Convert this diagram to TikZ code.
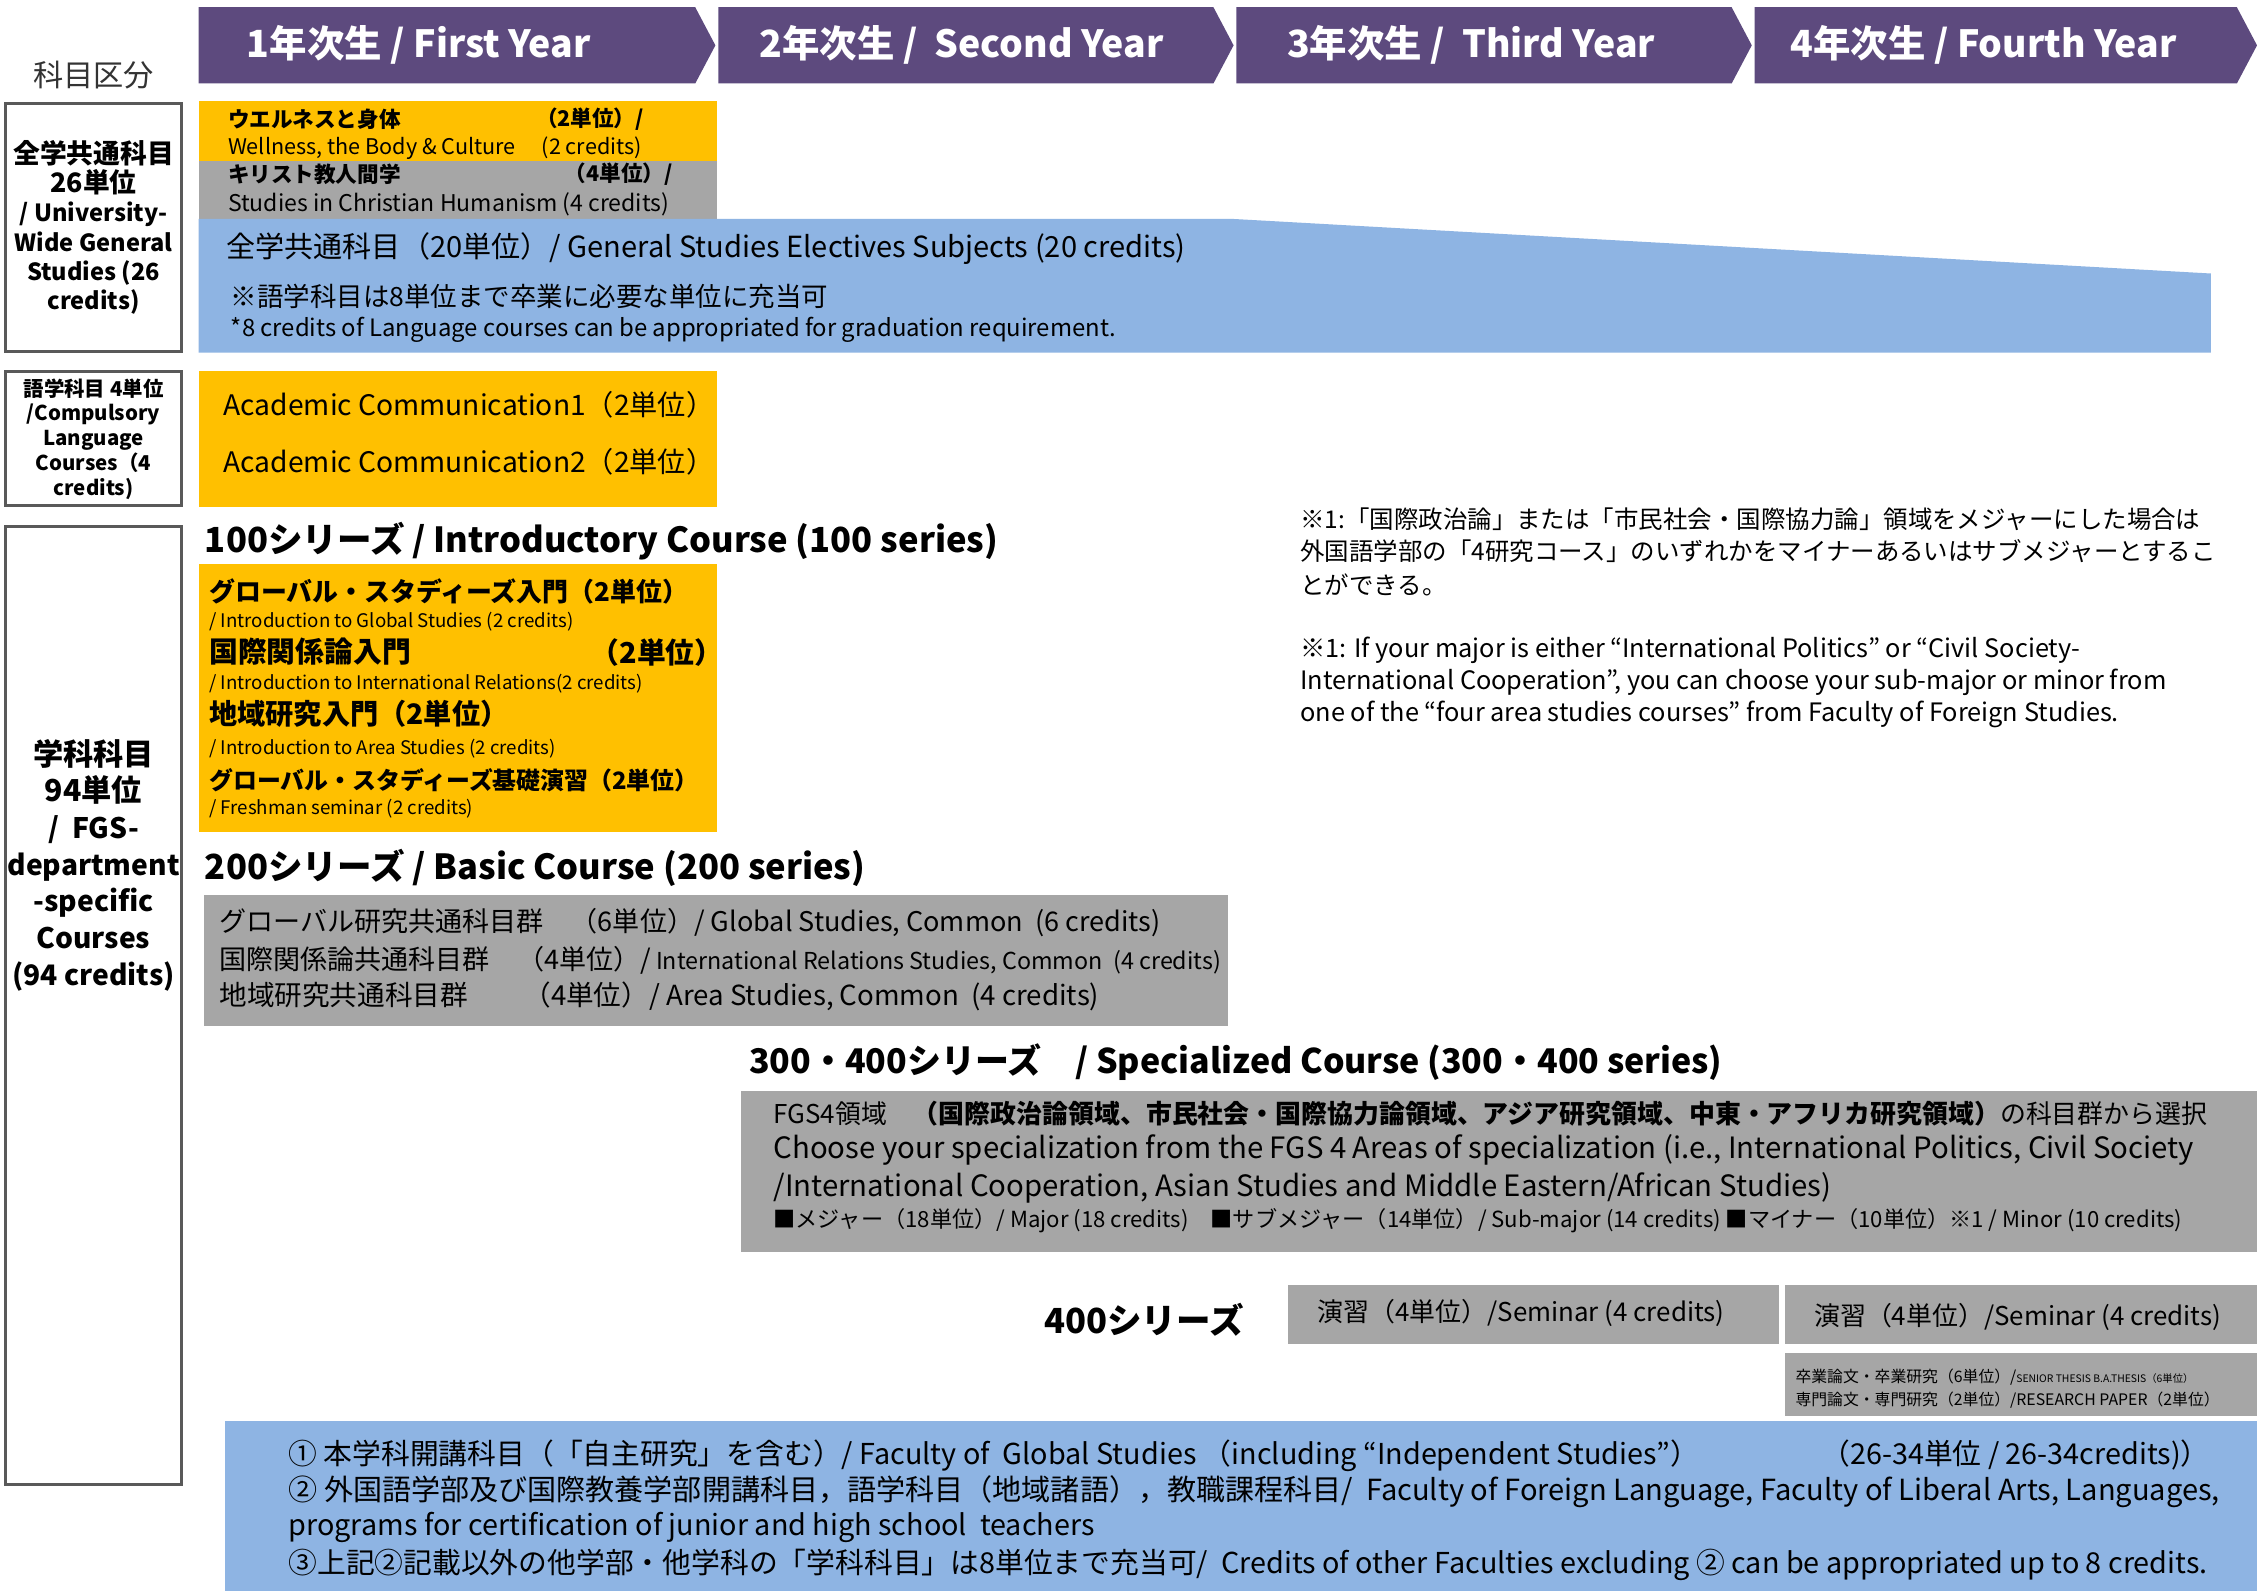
\documentclass[tikz,border=0pt]{standalone}
\usepackage{fontspec}
\setmainfont{Noto Sans CJK JP}
\definecolor{hdr}{HTML}{5D4A7E}
\definecolor{ylw}{HTML}{FFC000}
\definecolor{gry}{HTML}{A6A6A6}
\definecolor{blu}{HTML}{8EB4E3}
\definecolor{frm}{HTML}{595959}
\newcommand\fz[1]{\fontsize{#1}{#1}\selectfont}
\begin{document}
\begin{tikzpicture}[x=0.5pt,y=-0.5pt,
  txt/.style={inner sep=0pt, anchor=west},
  ctr/.style={inner sep=0pt, align=center},
  hdrtxt/.style={inner sep=0pt, text=white, font=\fz{13}\bfseries},
  sidebox/.style={draw=frm, line width=1pt, fill=white}]
\clip (0,0) rectangle (1568,1105);
\fill[white] (0,0) rectangle (1568,1105);

% year headers
\fill[hdr] (138,5) -- (483,5) -- (497,31.5) -- (483,58) -- (138,58) -- cycle;
\fill[hdr] (499,5) -- (843,5) -- (857,31.5) -- (843,58) -- (499,58) -- cycle;
\fill[hdr] (859,5) -- (1203,5) -- (1217,31.5) -- (1203,58) -- (859,58) -- cycle;
\fill[hdr] (1219,5) -- (1554,5) -- (1568,31.5) -- (1554,58) -- (1219,58) -- cycle;
\node[hdrtxt] (y1) at (291,31) {1年次生 / First Year};
\node[hdrtxt] (y2) at (668,31) {2年次生 /~ Second Year};
\node[hdrtxt] (y3) at (1022,31) {3年次生 /~ Third Year};
\node[hdrtxt] (y4) at (1378,31) {4年次生 / Fourth Year};

% left category column
\node[ctr, font=\fz{10.5}, text=black!80] (kk) at (65,52) {科目区分};
\draw[sidebox] (4,72) rectangle (126,244);
\draw[sidebox] (4,258) rectangle (126,351);
\draw[sidebox] (4,366) rectangle (126,1031);
\node[ctr, font=\fontsize{9.3}{10.2}\selectfont\bfseries] (s1) at (65,158)
  {全学共通科目\\26単位\\{\fz{8.2}/ University-}\\{\fz{8.2}Wide General}\\{\fz{8.2}Studies (26}\\{\fz{8.2}credits)}};
\node[ctr, font=\fontsize{7.1}{8.6}\selectfont\bfseries] (s2) at (65,305)
  {語学科目 4単位\\/Compulsory\\Language\\Courses（4\\credits)};
\node[ctr, font=\fontsize{10.5}{12.75}\selectfont\bfseries] (s3) at (65,601)
  {学科科目\\94単位\\{\fz{9.8}/~ FGS-}\\{\fz{9.8}department}\\{\fz{9.8}-specific}\\{\fz{9.8}Courses}\\{\fz{9.8}(94 credits)}};

% university-wide general studies
\fill[ylw] (138,70) rectangle (498,112);
\fill[gry] (138,112) rectangle (498,152);
\fill[blu] (138,152) -- (855,152) -- (1536,190) -- (1536,245) -- (138,245) -- cycle;
\node[txt, font=\fz{7.5}\bfseries] (w1) at (158,83) {ウエルネスと身体};
\node[txt, font=\fz{7.5}\bfseries] (w2) at (372,83) {（2単位）/};
\node[txt, font=\fz{7.5}] (w3) at (158,103) {Wellness, the Body \& Culture};
\node[txt, font=\fz{7.5}] (w4) at (376,103) {(2 credits)};
\node[txt, font=\fz{7.5}\bfseries] (c1) at (158,121) {キリスト教人間学};
\node[txt, font=\fz{7.5}\bfseries] (c2) at (392,121) {（4単位）/};
\node[txt, font=\fz{8}] (c3) at (158,142) {Studies in Christian Humanism (4 credits)};
\node[txt, font=\fz{10.1}] (g1) at (157,173) {全学共通科目（20単位）/ General Studies Electives Subjects (20 credits)};
\node[txt, font=\fz{9.2}] (g2) at (160,206) {※語学科目は8単位まで卒業に必要な単位に充当可};
\node[txt, font=\fz{8.3}] (g3) at (160,229) {*8 credits of Language courses can be appropriated for graduation requirement.};

% language courses
\fill[ylw] (138,258) rectangle (498,352);
\node[txt, font=\fz{9.8}] (a1) at (155,281) {Academic Communication1（2単位）};
\node[txt, font=\fz{9.8}] (a2) at (155,321) {Academic Communication2（2単位）};

% 100 series
\node[txt, font=\fz{12}\bfseries] (t1) at (142,376) {100シリーズ / Introductory Course (100 series)};
\fill[ylw] (138,392) rectangle (498,578);
\node[txt, font=\fz{9}\bfseries] (i1) at (145,411) {グローバル・スタディーズ入門（2単位）};
\node[txt, font=\fz{6.5}] (i2) at (145,432) {/ Introduction to Global Studies (2 credits)};
\node[txt, font=\fz{10}\bfseries] (i3) at (145,453) {国際関係論入門};
\node[txt, font=\fz{10}\bfseries] (i3b) at (410,453) {（2単位）};
\node[txt, font=\fz{6.5}] (i4) at (145,475) {/ Introduction to International Relations(2 credits)};
\node[txt, font=\fz{9.8}\bfseries] (i5) at (145,496) {地域研究入門（2単位）};
\node[txt, font=\fz{6.5}] (i6) at (145,520) {/ Introduction to Area Studies (2 credits)};
\node[txt, font=\fz{8.3}\bfseries] (i7) at (145,542) {グローバル・スタディーズ基礎演習（2単位）};
\node[txt, font=\fz{6.5}] (i8) at (145,562) {/ Freshman seminar (2 credits)};

% 200 series
\node[txt, font=\fz{12}\bfseries] (t2) at (142,603) {200シリーズ / Basic Course (200 series)};
\fill[gry] (142,622) rectangle (853,713);
\node[txt, font=\fz{9.4}] (b1) at (152,641) {グローバル研究共通科目群　（6単位）/ Global Studies, Common~ (6 credits)};
\node[txt, font=\fz{9.4}] (b2) at (152,667) {国際関係論共通科目群　（4単位）/{\fz{8.1} International Relations Studies, Common~ (4 credits)}};
\node[txt, font=\fz{9.6}] (b3) at (152,692) {地域研究共通科目群　　（4単位）/ Area Studies, Common~ (4 credits)};

% 300/400 series
\node[txt, font=\fz{11.8}\bfseries] (t3) at (520,738) {300・400シリーズ　/ Specialized Course (300・400 series)};
\fill[gry] (515,758) rectangle (1568,870);
\node[txt, font=\fz{9}] (p1) at (537,774) {FGS4領域　{\bfseries（国際政治論領域、市民社会・国際協力論領域、アジア研究領域、中東・アフリカ研究領域）}の科目群から選択};
\node[txt, font=\fz{10.2}] (p2) at (537,799) {Choose your specialization from the FGS 4 Areas of specialization (i.e., International Politics, Civil Society};
\node[txt, font=\fz{10.2}] (p3) at (537,825) {/International Cooperation, Asian Studies and Middle Eastern/African Studies)};
\node[txt, font=\fz{7.7}] (p4) at (537,848) {■メジャー（18単位）/ Major (18 credits)　■サブメジャー（14単位）/ Sub-major (14 credits) ■マイナー（10単位）※1 / Minor (10 credits)};

% 400 series
\node[txt, font=\fz{12}\bfseries] (t4) at (725,917) {400シリーズ};
\fill[gry] (895,893) rectangle (1236,934);
\fill[gry] (1240,893) rectangle (1568,934);
\fill[gry] (1240,940) rectangle (1568,984);
\node[txt, font=\fz{9}] (e1) at (915,912) {演習（4単位）/Seminar (4 credits)};
\node[txt, font=\fz{9}] (e2) at (1260,915) {演習（4単位）/Seminar (4 credits)};
\node[txt, font=\fz{5.5}] (h1) at (1247,957) {卒業論文・卒業研究（6単位）/{\fz{3.6}SENIOR THESIS B.A.THESIS（6単位）}};
\node[txt, font=\fz{5.5}] (h2) at (1247,973) {専門論文・専門研究（2単位）/RESEARCH PAPER（2単位）};

% note
\node[txt, font=\fz{8.5}] (n1) at (903,361) {※1:「国際政治論」または「市民社会・国際協力論」領域をメジャーにした場合は};
\node[txt, font=\fz{8.5}] (n2) at (903,383) {外国語学部の「4研究コース」のいずれかをマイナーあるいはサブメジャーとするこ};
\node[txt, font=\fz{8.5}] (n3) at (903,406) {とができる。};
\node[txt, font=\fz{8.8}] (n4) at (903,452) {※1: If your major is either “International Politics” or “Civil Society-};
\node[txt, font=\fz{8.8}] (n5) at (903,474) {International Cooperation”, you can choose your sub-major or minor from};
\node[txt, font=\fz{8.8}] (n6) at (903,496) {one of the “four area studies courses” from Faculty of Foreign Studies.};

% bottom box
\fill[blu] (156,987) rectangle (1568,1105);
\node[txt, font=\fz{10}] (f1) at (200,1011) {① 本学科開講科目（「自主研究」を含む）/ Faculty of~ Global Studies （including “Independent Studies”）};
\node[txt, font=\fz{10}] (f1b) at (1265,1011) {（26-34単位 / 26-34credits)）};
\node[txt, font=\fz{10.1}] (f2) at (200,1036) {② 外国語学部及び国際教養学部開講科目，語学科目（地域諸語），教職課程科目/~ Faculty of Foreign Language, Faculty of Liberal Arts, Languages,};
\node[txt, font=\fz{10}] (f3) at (200,1061) {programs for certification of junior and high school~ teachers};
\node[txt, font=\fz{10}] (f4) at (200,1087) {③上記②記載以外の他学部・他学科の「学科科目」は8単位まで充当可/~ Credits of other Faculties excluding ② can be appropriated up to 8 credits.};
\end{tikzpicture}
\end{document}
